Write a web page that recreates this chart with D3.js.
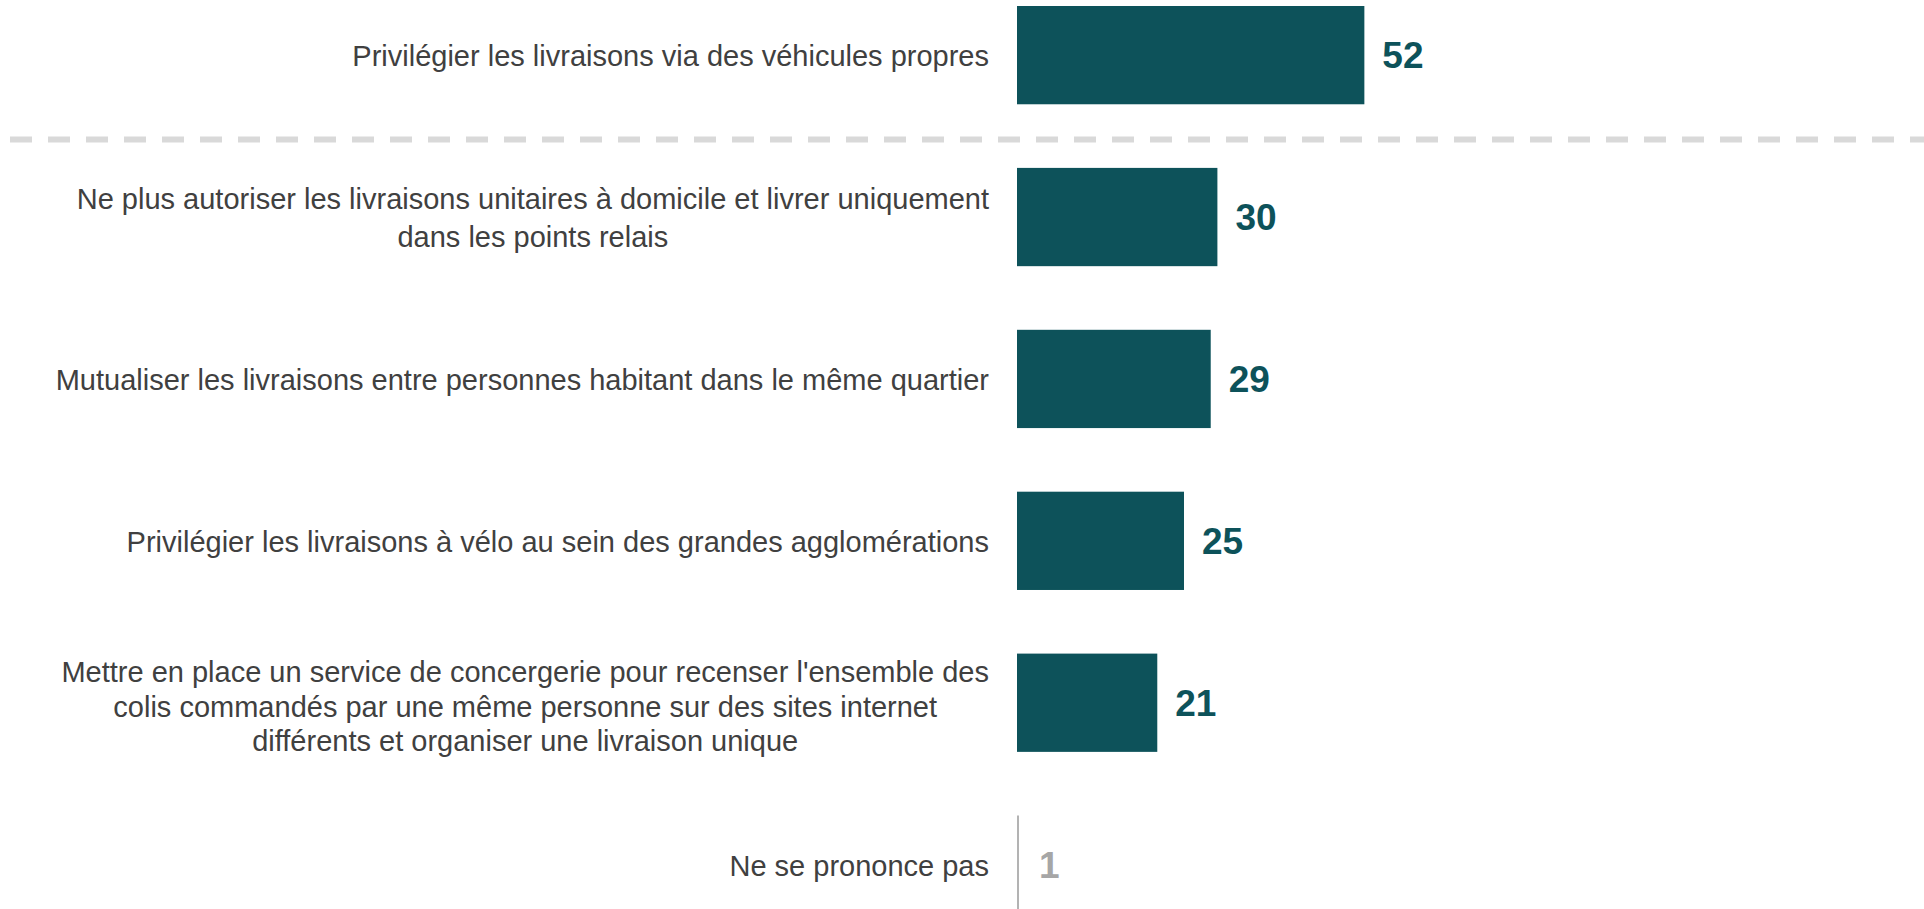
<!DOCTYPE html>
<html>
<head>
<meta charset="utf-8">
<script src="https://cdn.jsdelivr.net/npm/d3@7"></script>
<style>
  html, body { margin: 0; padding: 0; background: #fff; }
  svg { display: block; font-family: "Liberation Sans", Arial, sans-serif; }
</style>
</head>
<body>
<div id="chart"></div>
<script>
// Answer labels (one entry per bar, split into display lines)
const categories = [
    ['Privilégier les livraisons via des véhicules propres'],
    ['Ne plus autoriser les livraisons unitaires à domicile et livrer uniquement', 'dans les points relais'],
    ['Mutualiser les livraisons entre personnes habitant dans le même quartier'],
    ['Privilégier les livraisons à vélo au sein des grandes agglomérations'],
    ["Mettre en place un service de concergerie pour recenser l'ensemble des", 'colis commandés par une même personne sur des sites internet', 'différents et organiser une livraison unique'],
    ['Ne se prononce pas']
];

// Percentages
const values = [52, 30, 29, 25, 21, 1];

// Which row is the "no answer" row (drawn in grey)
const nspIndex = 5;

document.addEventListener('DOMContentLoaded', function() {
    const width = 1924;
    const height = 909;

    const svg = d3.select('#chart')
        .append('svg')
        .attr('width', width)
        .attr('height', height);

    const rows = categories.map((lines, i) => ({ id: i, lines: lines, value: values[i] }));

    // Band scale for rows
    const step = 161.9;
    const y = d3.scaleBand()
        .domain(rows.map(d => d.id))
        .range([6, 6 + step * (rows.length - 0.393)])
        .paddingInner(0.393)
        .paddingOuter(0);

    // Linear scale for bar length
    const x = d3.scaleLinear()
        .domain([0, 100])
        .range([1017, 1017 + 668]);

    const labelRight = 989;

    // Separator between first answer and the others
    const sepY = (y(0) + y.bandwidth() + y(1)) / 2 + 3.5;
    svg.append('line')
        .attr('x1', 10)
        .attr('x2', width)
        .attr('y1', sepY)
        .attr('y2', sepY)
        .attr('stroke', '#d9d9d9')
        .attr('stroke-width', 6)
        .attr('stroke-dasharray', '22,16');

    // Bars
    const bars = svg.append('g').attr('class', 'bars');
    bars.selectAll('rect')
        .data(rows.filter(d => d.id !== nspIndex))
        .enter()
        .append('rect')
        .attr('x', x(0))
        .attr('y', d => y(d.id))
        .attr('width', d => x(d.value) - x(0))
        .attr('height', y.bandwidth())
        .attr('fill', '#0d525a');

    // "Ne se prononce pas" drawn as a thin grey line
    const nsp = rows[nspIndex];
    bars.append('rect')
        .attr('x', x(0))
        .attr('y', y(nsp.id))
        .attr('width', 2)
        .attr('height', y.bandwidth())
        .attr('fill', '#b3b3b3');

    // Value labels
    svg.append('g').attr('class', 'values')
        .selectAll('text')
        .data(rows)
        .enter()
        .append('text')
        .attr('x', d => d.id === nspIndex ? x(0) + 22 : x(d.value) + 18)
        .attr('y', d => y(d.id) + y.bandwidth() / 2)
        .attr('dy', '0.36em')
        .attr('font-size', 37)
        .attr('font-weight', 'bold')
        .attr('fill', d => d.id === nspIndex ? '#a6a6a6' : '#0d525a')
        .text(d => d.value);

    // Category labels: block right-aligned, lines centred within the block
    const labels = svg.append('g').attr('class', 'labels')
        .selectAll('text')
        .data(rows)
        .enter()
        .append('text')
        .attr('font-size', 29)
        .attr('fill', '#404040')
        .attr('text-anchor', 'middle');

    labels.each(function(d) {
        const t = d3.select(this);
        const n = d.lines.length;
        const lineHeight = n === 2 ? 38 : 34.5;
        const shift = n === 3 ? 4 : 1;
        const cy = y(d.id) + y.bandwidth() / 2 + shift;
        const first = cy - (n - 1) * lineHeight / 2;
        d.lines.forEach((line, j) => {
            t.append('tspan')
                .attr('y', first + j * lineHeight)
                .attr('dy', '0.35em')
                .text(line);
        });
        let maxW = 0;
        t.selectAll('tspan').each(function() {
            maxW = Math.max(maxW, this.getComputedTextLength());
        });
        t.selectAll('tspan').attr('x', labelRight - maxW / 2);
    });
});
</script>
</body>
</html>
